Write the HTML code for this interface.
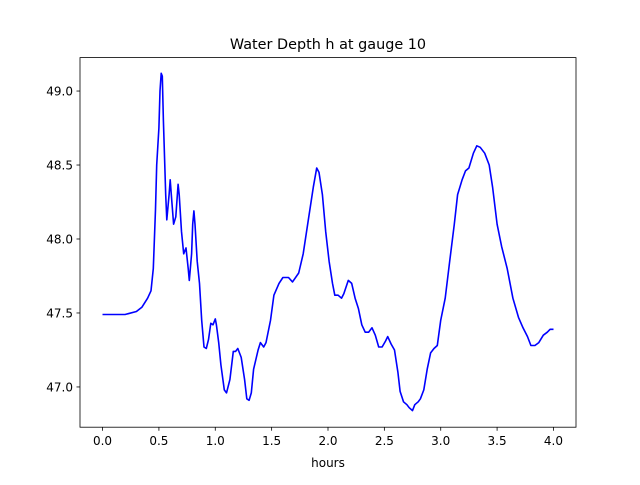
<!DOCTYPE html>
<html><head><meta charset="utf-8"><style>
body{margin:0;background:#fff;}
svg text{font-family:"DejaVu Sans","Liberation Sans",sans-serif;fill:#000;}
</style></head><body>
<svg id="chart" width="640" height="480">
<rect width="640" height="480" fill="#fff"/>
<text x="328" y="49" font-size="14.4" text-anchor="middle">Water Depth h at gauge 10</text>
<g id="xticks"></g>
<g id="yticks"></g>
<polyline id="line" fill="none" stroke="#0000ff" stroke-width="1.6" stroke-linejoin="round"/>
<rect x="80" y="57.6" width="496" height="369.6" fill="none" stroke="#000" stroke-width="0.8"/>
<text x="328" y="467" font-size="12" text-anchor="middle">hours</text>
</svg>
<script>
const times=[0,0.2,0.3,0.35,0.4,0.43,0.45,0.47,0.48,0.5,0.51,0.52,0.53,0.54,0.56,0.57,0.59,0.6,0.61,0.63,0.65,0.67,0.68,0.7,0.72,0.74,0.76,0.77,0.79,0.8,0.81,0.82,0.84,0.86,0.88,0.9,0.92,0.94,0.96,0.98,1.0,1.01,1.03,1.05,1.08,1.1,1.13,1.16,1.18,1.2,1.23,1.26,1.28,1.3,1.32,1.34,1.38,1.4,1.43,1.45,1.49,1.52,1.565,1.6,1.65,1.685,1.74,1.78,1.83,1.87,1.9,1.92,1.95,1.98,2.01,2.04,2.06,2.09,2.12,2.14,2.18,2.21,2.24,2.27,2.3,2.33,2.36,2.39,2.42,2.45,2.48,2.51,2.53,2.56,2.59,2.62,2.64,2.67,2.7,2.72,2.75,2.77,2.8,2.82,2.85,2.88,2.91,2.94,2.97,3.0,3.04,3.08,3.12,3.15,3.19,3.22,3.25,3.29,3.32,3.35,3.39,3.43,3.46,3.5,3.54,3.59,3.64,3.69,3.73,3.77,3.8,3.835,3.87,3.91,3.945,3.97,4.0];
const depths=[47.49,47.49,47.51,47.54,47.6,47.65,47.8,48.2,48.5,48.75,49.0,49.12,49.1,48.8,48.3,48.13,48.3,48.4,48.3,48.1,48.15,48.37,48.3,48.05,47.9,47.94,47.8,47.72,47.9,48.1,48.19,48.1,47.85,47.7,47.45,47.27,47.26,47.32,47.43,47.42,47.46,47.42,47.3,47.15,46.98,46.96,47.05,47.24,47.24,47.26,47.2,47.05,46.92,46.91,46.96,47.12,47.25,47.3,47.27,47.3,47.45,47.62,47.7,47.74,47.74,47.71,47.77,47.9,48.15,48.35,48.48,48.45,48.3,48.05,47.85,47.7,47.62,47.62,47.6,47.63,47.72,47.7,47.6,47.53,47.42,47.37,47.37,47.4,47.35,47.27,47.27,47.31,47.34,47.29,47.25,47.1,46.97,46.9,46.88,46.86,46.84,46.88,46.9,46.92,46.98,47.12,47.23,47.26,47.28,47.45,47.6,47.85,48.1,48.3,48.4,48.46,48.48,48.58,48.63,48.62,48.58,48.5,48.35,48.1,47.95,47.8,47.6,47.47,47.4,47.34,47.28,47.28,47.3,47.35,47.37,47.39,47.39];
const xTickVals=[0,0.5,1,1.5,2,2.5,3,3.5,4];
const xTickLabels=["0.0","0.5","1.0","1.5","2.0","2.5","3.0","3.5","4.0"];
const yTickVals=[47,47.5,48,48.5,49];
const yTickLabels=["47.0","47.5","48.0","48.5","49.0"];
const X0=80,X1=576,Y0=57.6,Y1=427.2;
const xmin=-0.2,xmax=4.2,ymin=46.728,ymax=49.226;
function sx(v){return X0+(v-xmin)/(xmax-xmin)*(X1-X0);}
function sy(v){return Y1-(v-ymin)/(ymax-ymin)*(Y1-Y0);}
const NS="http://www.w3.org/2000/svg";
const xg=document.getElementById('xticks'),yg=document.getElementById('yticks');
xTickVals.forEach((v,i)=>{
  const l=document.createElementNS(NS,'line');
  l.setAttribute('x1',sx(v));l.setAttribute('x2',sx(v));l.setAttribute('y1',Y1);l.setAttribute('y2',Y1+3.5);
  l.setAttribute('stroke','#000');l.setAttribute('stroke-width','0.8');
  
  
  xg.appendChild(l);
  const t=document.createElementNS(NS,'text');
  t.setAttribute('x',sx(v));t.setAttribute('y',Y1+18);t.setAttribute('font-size','12');t.setAttribute('text-anchor','middle');
  t.textContent=xTickLabels[i];
  
  
  xg.appendChild(t);
});
yTickVals.forEach((v,i)=>{
  const l=document.createElementNS(NS,'line');
  l.setAttribute('x1',X0-3.5);l.setAttribute('x2',X0);l.setAttribute('y1',sy(v));l.setAttribute('y2',sy(v));
  l.setAttribute('stroke','#000');l.setAttribute('stroke-width','0.8');
  
  
  yg.appendChild(l);
  const t=document.createElementNS(NS,'text');
  t.setAttribute('x',X0-7);t.setAttribute('y',sy(v)+4.5);t.setAttribute('font-size','12');t.setAttribute('text-anchor','end');
  t.textContent=yTickLabels[i];
  
  
  yg.appendChild(t);
});
document.getElementById('line').setAttribute('points',times.map((t,i)=>sx(t).toFixed(1)+','+sy(depths[i]).toFixed(1)).join(' '));
</script>
</body></html>
